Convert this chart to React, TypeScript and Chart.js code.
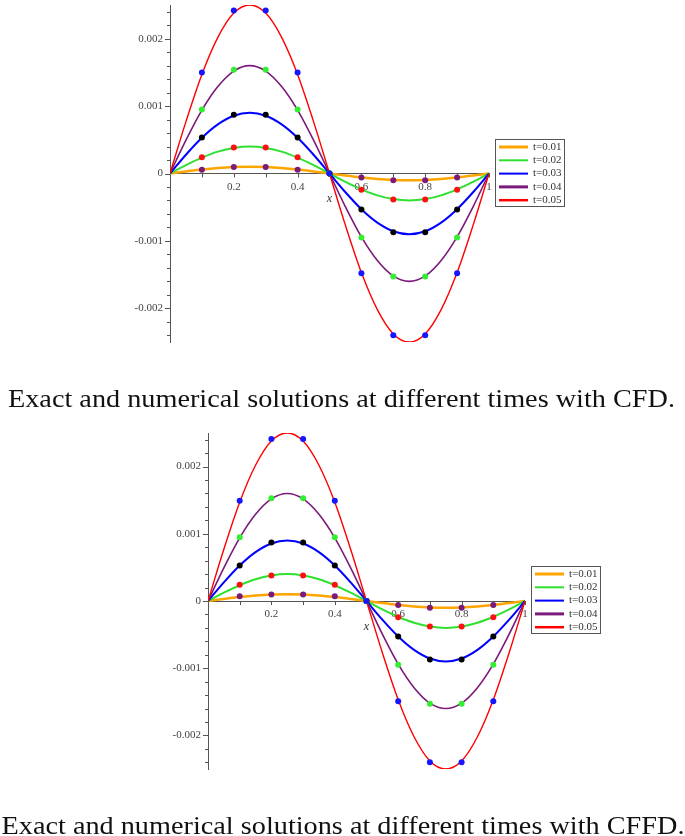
import { useEffect, useRef } from "react"
import { Chart, registerables } from "chart.js"

Chart.register(...registerables)

// exact solution curves, sampled along x
const curveX = [0, 0.05, 0.1, 0.15, 0.2, 0.25, 0.3, 0.35, 0.4, 0.45, 0.5, 0.55, 0.6, 0.65, 0.7, 0.75, 0.8, 0.85, 0.9, 0.95, 1]
const exact01 = [0, 0.000031, 0.000059, 0.000081, 0.000095, 0.0001, 0.000095, 0.000081, 0.000059, 0.000031, 0, -0.000031, -0.000059, -0.000081, -0.000095, -0.0001, -0.000095, -0.000081, -0.000059, -0.000031, 0]
const exact02 = [0, 0.000124, 0.000235, 0.000324, 0.00038, 0.0004, 0.00038, 0.000324, 0.000235, 0.000124, 0, -0.000124, -0.000235, -0.000324, -0.00038, -0.0004, -0.00038, -0.000324, -0.000235, -0.000124, 0]
const exact03 = [0, 0.000278, 0.000529, 0.000728, 0.000856, 0.0009, 0.000856, 0.000728, 0.000529, 0.000278, 0, -0.000278, -0.000529, -0.000728, -0.000856, -0.0009, -0.000856, -0.000728, -0.000529, -0.000278, 0]
const exact04 = [0, 0.000494, 0.00094, 0.00129, 0.00152, 0.0016, 0.00152, 0.00129, 0.00094, 0.000494, 0, -0.000494, -0.00094, -0.00129, -0.00152, -0.0016, -0.00152, -0.00129, -0.00094, -0.000494, 0]
const exact05 = [0, 0.00077, 0.00147, 0.00202, 0.00238, 0.0025, 0.00238, 0.00202, 0.00147, 0.00077, 0, -0.00077, -0.00147, -0.00202, -0.00238, -0.0025, -0.00238, -0.00202, -0.00147, -0.00077, 0]

// numerical solutions at the grid nodes
const nodeX = [0.1, 0.2, 0.3, 0.4, 0.5, 0.6, 0.7, 0.8, 0.9]
const cfd01 = [0.000055, 0.000095, 0.000095, 0.000055, 0, -0.00006, -0.0001, -0.0001, -0.00006]
const cfd02 = [0.00024, 0.000385, 0.000385, 0.00024, 0, -0.00024, -0.000385, -0.000385, -0.00024]
const cfd03 = [0.000535, 0.00087, 0.00087, 0.000535, 0, -0.000533, -0.00087, -0.00087, -0.000533]
const cfd04 = [0.00095, 0.00154, 0.00154, 0.00095, 0, -0.00095, -0.00153, -0.00153, -0.00095]
const cfd05 = [0.0015, 0.00242, 0.00242, 0.0015, 0, -0.00148, -0.0024, -0.0024, -0.00148]

const cffd01 = [0.00007, 0.000095, 0.000095, 0.00007, 0, -0.00006, -0.0001, -0.0001, -0.00006]
const cffd02 = [0.000243, 0.00038, 0.00038, 0.000243, 0, -0.00024, -0.00038, -0.00038, -0.00024]
const cffd03 = [0.00053, 0.00087, 0.00087, 0.00053, 0, -0.00053, -0.00087, -0.00087, -0.00053]
const cffd04 = [0.00095, 0.00153, 0.00153, 0.00095, 0, -0.00095, -0.00153, -0.00153, -0.00095]
const cffd05 = [0.00149, 0.00241, 0.00241, 0.00149, 0, -0.00149, -0.0024, -0.0024, -0.00149]

const seriesLabels = ["t=0.01", "t=0.02", "t=0.03", "t=0.04", "t=0.05"]
const lineColors = ["#ffa500", "#2fe02f", "#0000ff", "#7a1a7a", "#ff0000"]
const lineWidths = [2.5, 2, 2, 1.6, 1.4]
const legendWidths = [3, 2, 2, 3, 2.5]
const dotColors = ["#7a1a7a", "#ff1010", "#000000", "#33ee33", "#1515ff"]

const captionCFD = "Exact and numerical solutions at different times with CFD."
const captionCFFD = "Exact and numerical solutions at different times with CFFD."

const serif = "'Liberation Serif', 'Times New Roman', serif"
const axisColor = "#555"

const tickMarks = {
  id: "tickMarks",
  beforeDatasetsDraw(chart: any) {
    const { ctx, scales } = chart
    const x = scales.x
    const y = scales.y
    const y0 = y.getPixelForValue(0)
    ctx.save()
    ctx.strokeStyle = axisColor
    ctx.lineWidth = 1
    ctx.beginPath()
    y.ticks.forEach((t: any) => {
      const py = Math.round(y.getPixelForValue(t.value)) + 0.5
      const len = t.label ? 5 : 3
      ctx.moveTo(x.left - len, py)
      ctx.lineTo(x.left, py)
    })
    x.ticks.forEach((t: any) => {
      if (t.value === 0) return
      const px = Math.round(x.getPixelForValue(t.value)) + 0.5
      ctx.moveTo(px, y0)
      ctx.lineTo(px, y0 + 4)
    })
    ctx.stroke()
    ctx.restore()
  },
}

const boxLegend = {
  id: "boxLegend",
  afterDraw(chart: any) {
    const { ctx, chartArea, scales } = chart
    const left = Math.round(chartArea.right + 6)
    const top = Math.round(scales.y.getPixelForValue(0) - 35)
    const w = 70
    const h = 68
    ctx.save()
    ctx.fillStyle = "#fff"
    ctx.fillRect(left, top, w, h)
    ctx.strokeStyle = "#555"
    ctx.lineWidth = 1
    ctx.strokeRect(left + 0.5, top + 0.5, w - 1, h - 1)
    ctx.font = `11px ${serif}`
    ctx.textBaseline = "middle"
    seriesLabels.forEach((label, i) => {
      const ry = top + 8 + i * 13.3
      ctx.strokeStyle = lineColors[i]
      ctx.lineWidth = legendWidths[i]
      ctx.beginPath()
      ctx.moveTo(left + 4, ry)
      ctx.lineTo(left + 33, ry)
      ctx.stroke()
      ctx.fillStyle = "#333"
      ctx.fillText(label, left + 38, ry)
    })
    ctx.restore()
  },
}

function SolutionChart({ dots, yAxisWidth, padding }: { dots: number[][]; yAxisWidth: number; padding: any }) {
  const chartRef = useRef<HTMLCanvasElement>(null)
  const chartInstance = useRef<Chart | null>(null)

  useEffect(() => {
    if (!chartRef.current) return
    if (chartInstance.current) chartInstance.current.destroy()
    const ctx = chartRef.current.getContext("2d")
    if (!ctx) return

    const exact = [exact01, exact02, exact03, exact04, exact05]

    const markerSets = dots.map((vals, i) => ({
      label: seriesLabels[i] + " numerical",
      data: nodeX.map((x, j) => ({ x, y: vals[j] })),
      showLine: false,
      pointRadius: 3,
      pointBorderWidth: 0,
      pointBackgroundColor: dotColors[i],
      order: 4 - i,
    }))

    const lineSets = exact.map((vals, i) => ({
      label: seriesLabels[i],
      data: curveX.map((x, j) => ({ x, y: vals[j] })),
      showLine: true,
      pointRadius: 0,
      borderColor: lineColors[i],
      borderWidth: lineWidths[i],
      cubicInterpolationMode: "monotone" as const,
      fill: false,
      order: 10 + 4 - i,
    }))

    chartInstance.current = new Chart(ctx, {
      type: "scatter",
      data: { datasets: [...markerSets, ...lineSets] as any },
      options: {
        responsive: true,
        maintainAspectRatio: false,
        animation: false,
        layout: { padding },
        plugins: { legend: { display: false }, tooltip: { enabled: false } },
        scales: {
          x: {
            type: "linear",
            min: 0,
            max: 1,
            position: { y: 0 } as any,
            grid: { display: true, drawOnChartArea: false, drawTicks: false },
            border: { display: true, color: axisColor, width: 1 },
            ticks: {
              stepSize: 0.1,
              padding: 7,
              maxRotation: 0,
              autoSkip: false,
              color: "#444",
              font: { family: serif, size: 11 },
              callback: (v: any) => {
                const k = Math.round(Number(v) * 10)
                if (k <= 0 || k % 2 !== 0) return ""
                return k === 10 ? "1" : String(k / 10)
              },
            },
            title: {
              display: true,
              text: "x",
              color: "#333",
              padding: 0,
              font: { family: serif, size: 12, style: "italic" },
            },
            afterFit: (s: any) => {
              s.height = 33
              s.paddingLeft = 0
              s.paddingRight = 0
              s.paddingTop = 0
              s.paddingBottom = 0
            },
          },
          y: {
            type: "linear",
            min: -0.0025,
            max: 0.0025,
            position: "left",
            grid: { display: true, drawOnChartArea: false, drawTicks: false },
            border: { display: true, color: axisColor, width: 1 },
            afterBuildTicks: (s: any) => {
              const t = []
              for (let k = -12; k <= 12; k++) t.push({ value: k * 0.0002 })
              s.ticks = t
            },
            ticks: {
              padding: 7,
              autoSkip: false,
              color: "#444",
              font: { family: serif, size: 11 },
              callback: (v: any) => {
                const m = Number(v) * 1000
                const k = Math.round(m)
                if (Math.abs(m - k) > 1e-6) return ""
                return k === 0 ? "0" : String(k / 1000)
              },
            },
            afterFit: (s: any) => {
              s.width = yAxisWidth
              s.paddingTop = 0
              s.paddingBottom = 0
              s.paddingLeft = 0
              s.paddingRight = 0
            },
          },
        },
      },
      plugins: [tickMarks, boxLegend],
    })

    return () => {
      if (chartInstance.current) {
        chartInstance.current.destroy()
        chartInstance.current = null
      }
    }
  }, [dots, yAxisWidth, padding])

  return <canvas ref={chartRef} />
}

const cfdDots = [cfd01, cfd02, cfd03, cfd04, cfd05]
const cffdDots = [cffd01, cffd02, cffd03, cffd04, cffd05]
const topPadding = { left: 0, top: 5, right: 196, bottom: 18 }
const bottomPadding = { left: 0, top: 13, right: 160, bottom: 11 }

export default function App() {
  return (
    <div style={{ position: "absolute", left: 0, top: 0, width: 685, height: 836, background: "#fff", overflow: "hidden" }}>
      <div style={{ position: "absolute", left: 0, top: 0, width: 685, height: 360 }}>
        <SolutionChart dots={cfdDots} yAxisWidth={170} padding={topPadding} />
      </div>
      <div style={{ position: "absolute", left: 0, top: 420, width: 685, height: 360 }}>
        <SolutionChart dots={cffdDots} yAxisWidth={208} padding={bottomPadding} />
      </div>
      <svg width={685} height={836} style={{ position: "absolute", left: 0, top: 0, pointerEvents: "none" }}>
        <text x={8} y={407} fontFamily={serif} fontSize={25} fill="#111" textLength={667} lengthAdjust="spacingAndGlyphs">
          {captionCFD}
        </text>
        <text x={1.5} y={834} fontFamily={serif} fontSize={25} fill="#111" textLength={683} lengthAdjust="spacingAndGlyphs">
          {captionCFFD}
        </text>
      </svg>
    </div>
  )
}
